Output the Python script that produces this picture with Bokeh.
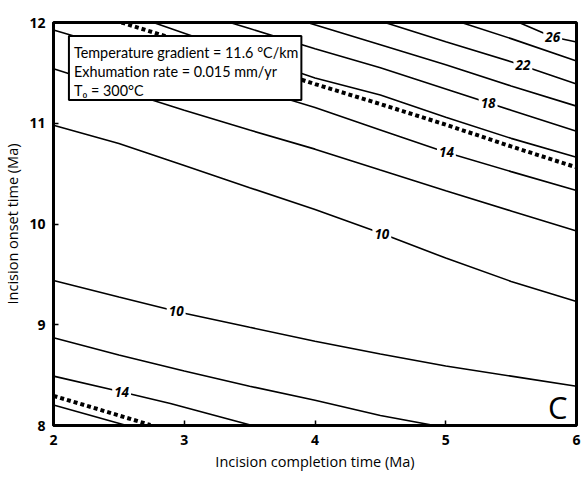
from bokeh.plotting import figure
from bokeh.models import Range1d, Label, FixedTicker, ColumnDataSource
from bokeh.embed import file_html
from bokeh.resources import INLINE
from bokeh.core.properties import value

# Contour lines: x = incision completion time (Ma), y = incision onset time (Ma)
c10a_x = [2.0, 2.5, 3.0, 3.5, 4.0, 4.5, 5.0, 5.5, 6.0]
c10a_y = [10.98, 10.80, 10.58, 10.36, 10.145, 9.91, 9.662, 9.43, 9.23]
c12a_x = [2.0, 2.5, 3.0, 3.5, 4.0, 4.5, 5.0, 5.5, 6.0]
c12a_y = [11.54, 11.334, 11.13, 10.932, 10.743, 10.536, 10.33, 10.13, 9.93]
c14a_x = [2.0, 2.5, 3.0, 3.5, 4.0, 4.5, 5.0, 5.5, 6.0]
c14a_y = [11.925, 11.735, 11.544, 11.353, 11.156, 10.934, 10.713, 10.52, 10.333]
c16a_x = [2.764, 3.0, 3.5, 4.0, 4.5, 5.0, 5.5, 6.0]
c16a_y = [12.0, 11.894, 11.67, 11.45, 11.28, 11.06, 10.85, 10.662]
c18_x = [3.349, 3.5, 4.0, 4.5, 5.0, 5.5, 6.0]
c18_y = [12.0, 11.94, 11.74, 11.55, 11.34, 11.13, 10.92]
c20_x = [3.941, 4.5, 5.0, 5.5, 6.0]
c20_y = [12.0, 11.78, 11.58, 11.37, 11.17]
c22_x = [4.534, 5.0, 5.5, 6.0]
c22_y = [12.0, 11.81, 11.61, 11.39]
c24_x = [5.119, 5.5, 6.0]
c24_y = [12.0, 11.84, 11.617]
c26_x = [5.56, 5.818, 6.0]
c26_y = [12.0, 11.856, 11.806]
c10b_x = [2.0, 2.5, 3.0, 3.5, 4.0, 4.5, 5.0, 5.5, 6.0]
c10b_y = [9.44, 9.275, 9.115, 8.975, 8.837, 8.71, 8.59, 8.49, 8.39]
c12b_x = [2.0, 2.5, 3.0, 3.5, 4.0, 4.5, 4.914]
c12b_y = [8.87, 8.70, 8.54, 8.39, 8.25, 8.10, 8.0]
c14b_x = [2.0, 2.5, 2.894, 3.52]
c14b_y = [8.49, 8.34, 8.219, 8.0]
c16b_x = [2.0, 2.559]
c16b_y = [8.204, 8.0]

# Dashed (observed) contour
dash_a_x = [2.52, 3.0, 3.5, 4.0, 4.5, 5.0, 5.5, 6.0]
dash_a_y = [12.0, 11.806, 11.597, 11.389, 11.19, 10.986, 10.77, 10.562]
dash_b_x = [2.0, 2.4, 2.741]
dash_b_y = [8.294, 8.139, 8.005]

# Contour labels
lab_x = [5.818, 5.590, 5.324, 5.005, 4.511, 2.938, 2.521]
lab_y = [11.856, 11.577, 11.199, 10.711, 9.905, 9.132, 8.335]
lab_t = ["26", "22", "18", "14", "10", "10", "14"]

x_ticks = [2, 3, 4, 5, 6]
y_ticks = [8, 9, 10, 11, 12]

info_lines = ["Temperature gradient = 11.6 \u00b0C/km",
              "Exhumation rate = 0.015 mm/yr",
              "T\u2080 = 300\u00b0C"]

FONT = "Open Sans"

p = figure(width=587, height=477, x_range=Range1d(2, 6), y_range=Range1d(8, 12),
           output_backend="svg", toolbar_location=None,
           min_border_left=49, min_border_right=11, min_border_top=22, min_border_bottom=52,
           background_fill_color="white", border_fill_color="white")

p.xgrid.visible = False
p.ygrid.visible = False
p.outline_line_color = "black"
p.outline_line_width = 3
p.outline_line_alpha = 1.0

solid = [(c10a_x, c10a_y), (c12a_x, c12a_y), (c14a_x, c14a_y), (c16a_x, c16a_y),
         (c18_x, c18_y), (c20_x, c20_y), (c22_x, c22_y), (c24_x, c24_y), (c26_x, c26_y),
         (c10b_x, c10b_y), (c12b_x, c12b_y), (c14b_x, c14b_y), (c16b_x, c16b_y)]
for xs, ys in solid:
    p.line(xs, ys, line_color="black", line_width=1.6)

for xs, ys in [(dash_a_x, dash_a_y), (dash_b_x, dash_b_y)]:
    p.line(xs, ys, line_color="black", line_width=4, line_dash="4 3", line_cap="butt")

src = ColumnDataSource(dict(x=lab_x, y=lab_y, t=lab_t))
p.text(x="x", y="y", text="t", source=src, text_font=value(FONT), text_font_size="13.5px",
       text_font_style="bold italic", text_align="center", text_baseline="middle",
       text_color="black", background_fill_color="white", padding=2)

# Parameter box (label with white background and black border)
info = Label(x=2.118, y=11.866, x_offset=0, y_offset=0,
             text="\n".join(info_lines),
             text_font="Lato", text_font_size="14.4px", text_color="black",
             text_line_height=1.12,
             text_baseline="top", text_align="left",
             background_fill_color="white", background_fill_alpha=1.0,
             border_line_color="black", border_line_width=2, border_line_alpha=1.0,
             padding=(5, 3, 8, 1))
p.add_layout(info)

p.add_layout(Label(x=5.856, y=8.184, text="C", text_font=FONT, text_font_size="31px",
                   text_align="center", text_baseline="middle", text_color="black"))

for ax, ticks in [(p.xaxis, x_ticks), (p.yaxis, y_ticks)]:
    ax.ticker = FixedTicker(ticks=ticks)
    ax.axis_line_width = 3
    ax.axis_line_color = "black"
    ax.major_tick_in = 5
    ax.major_tick_out = 0
    ax.major_tick_line_width = 1.5
    ax.minor_tick_line_color = None
    ax.major_label_text_font = FONT
    ax.major_label_text_font_size = "14px"
    ax.major_label_text_font_style = "bold"
    ax.major_label_text_color = "black"
    ax.axis_label_text_font = FONT
    ax.axis_label_text_font_size = "14.5px"
    ax.axis_label_text_font_style = "normal"
    ax.axis_label_text_color = "black"

p.xaxis.axis_label = "Incision completion time (Ma)"
p.yaxis.axis_label = "Incision onset time (Ma)"
p.xaxis.major_label_standoff = 9
p.xaxis.axis_label_standoff = 4
p.yaxis.major_label_standoff = 8
p.yaxis.axis_label_standoff = 4

open("out.html", "w").write(file_html(p, INLINE))
